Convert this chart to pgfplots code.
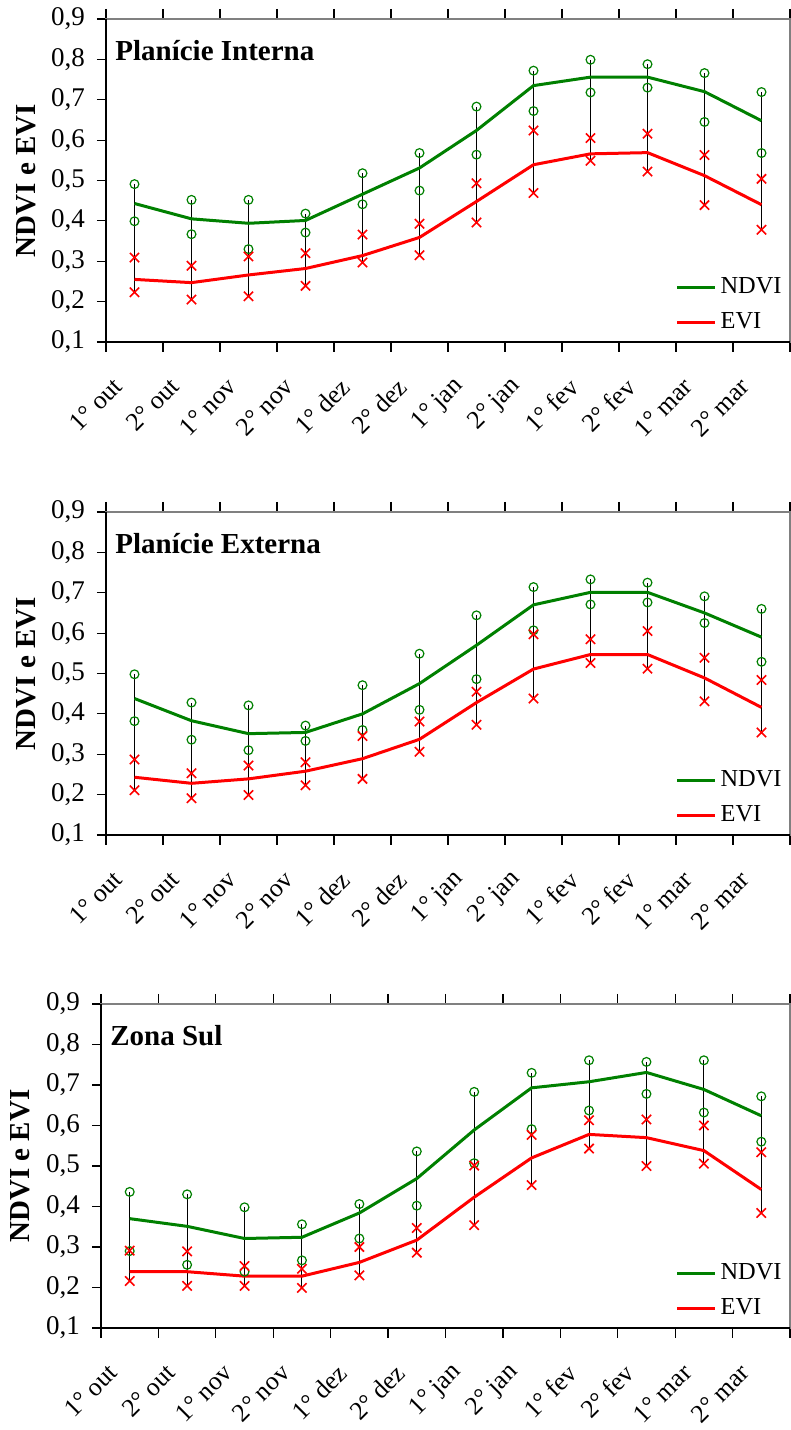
\documentclass[border=0pt]{standalone}
\usepackage{fontspec}
\setmainfont{Liberation Serif}
\usepackage{pgfplots}
\usepackage{pgfplotstable}
\pgfplotsset{compat=1.18}

\definecolor{ndvi}{RGB}{0,128,0}
\definecolor{evi}{RGB}{255,0,0}

% columns: category, NDVI mean/max/min, EVI mean/max/min
\pgfplotstableread{
x nmean nmax nmin emean emax emin
0  0.443 0.491 0.399 0.255 0.309 0.223
1  0.405 0.452 0.367 0.247 0.289 0.205
2  0.394 0.452 0.330 0.266 0.312 0.213
3  0.401 0.418 0.371 0.282 0.320 0.239
4  0.466 0.518 0.441 0.314 0.366 0.297
5  0.531 0.568 0.475 0.359 0.393 0.315
6  0.624 0.683 0.564 0.448 0.493 0.396
7  0.735 0.772 0.672 0.539 0.624 0.469
8  0.756 0.799 0.718 0.566 0.605 0.549
9  0.756 0.788 0.730 0.569 0.616 0.522
10 0.720 0.766 0.645 0.512 0.563 0.439
11 0.648 0.719 0.568 0.440 0.504 0.378
}\interna

\pgfplotstableread{
x nmean nmax nmin emean emax emin
0  0.438 0.498 0.382 0.243 0.287 0.211
1  0.383 0.428 0.336 0.228 0.253 0.191
2  0.351 0.421 0.310 0.239 0.272 0.199
3  0.354 0.371 0.333 0.258 0.280 0.223
4  0.400 0.471 0.360 0.289 0.345 0.239
5  0.475 0.549 0.410 0.337 0.381 0.306
6  0.570 0.644 0.486 0.428 0.455 0.373
7  0.670 0.714 0.607 0.511 0.597 0.438
8  0.701 0.733 0.671 0.547 0.585 0.526
9  0.701 0.725 0.676 0.547 0.605 0.512
10 0.650 0.691 0.625 0.489 0.539 0.431
11 0.590 0.660 0.529 0.416 0.484 0.354
}\externa

\pgfplotstableread{
x nmean nmax nmin emean emax emin
0  0.370 0.436 0.290 0.239 0.291 0.216
1  0.351 0.430 0.256 0.239 0.289 0.204
2  0.321 0.398 0.239 0.228 0.253 0.204
3  0.324 0.356 0.267 0.228 0.246 0.199
4  0.384 0.406 0.321 0.262 0.300 0.230
5  0.469 0.536 0.402 0.317 0.347 0.286
6  0.589 0.683 0.507 0.423 0.501 0.354
7  0.693 0.730 0.591 0.520 0.577 0.453
8  0.708 0.761 0.637 0.578 0.613 0.543
9  0.731 0.757 0.678 0.570 0.615 0.500
10 0.689 0.761 0.632 0.538 0.600 0.506
11 0.624 0.672 0.560 0.442 0.534 0.384
}\sul

\tikzset{
  paneltitle/.style={anchor=north west, inner sep=0pt, xshift=4.5pt, yshift=-10.5pt,
    font=\bfseries\fontsize{14.5}{17}\selectfont},
}

\pgfplotsset{
  panel/.style={
    scale only axis,
    width=342pt, height=161.5pt,
    xmin=-0.5, xmax=11.5, ymin=0.1, ymax=0.9,
    xtick={0,...,11},
    xticklabels={1° out,2° out,1° nov,2° nov,1° dez,2° dez,1° jan,2° jan,1° fev,2° fev,1° mar,2° mar},
    minor xtick={-0.5,0.5,...,11.5},
    ytick={0.1,0.2,0.3,0.4,0.5,0.6,0.7,0.8,0.9},
    tick align=outside,
    major tick length=4.5pt, minor tick length=5pt,
    major x tick style={draw=none},
    tick style={black, line width=0.6pt},
    axis line style={gray, line width=0.6pt},
    /pgf/number format/fixed,
    /pgf/number format/fixed zerofill,
    /pgf/number format/precision=1,
    /pgf/number format/use comma,
    /pgf/number format/assume math mode=true,
    yticklabel style={font=\fontsize{13.5}{16}\selectfont, xshift=-2.5pt},
    xticklabel style={font=\fontsize{12.9}{15}\selectfont, inner sep=1pt,
      xshift=-7.5pt, yshift=-15pt, rotate=45, anchor=east},
    ylabel={NDVI e EVI},
    ylabel style={at={(axis description cs:-0.117,0.5)}, anchor=center,
      font=\bfseries\fontsize{14.5}{17}\selectfont},
    legend style={at={(1,0)}, anchor=south east, xshift=-2pt, yshift=3pt,
      draw=none, fill=none, inner sep=0pt, row sep=4pt,
      font=\fontsize{12.2}{14}\selectfont},
    legend cell align=left,
    legend image code/.code={\draw[#1] (0pt,0pt) -- (19pt,0pt);},
    after end axis/.code={
      \draw[black, line width=0.6pt] (rel axis cs:0,1) -- (rel axis cs:0,0) -- (rel axis cs:1,0);
    },
  },
}

% one panel: high-low lines, mean curves, max/min markers
\newcommand\series[1]{%
  \addplot[mark=none, draw=none, forget plot,
    error bars/.cd, y dir=plus, y explicit, error mark=none,
    error bar style={draw=black, line width=0.5pt}]
    table[x=x, y=emin, y error expr=\thisrow{nmax}-\thisrow{emin}] {#1};
  \addplot[ndvi, line width=1.5pt, mark=none] table[x=x, y=nmean] {#1};
  \addplot[evi, line width=1.5pt, mark=none] table[x=x, y=emean] {#1};
  \addplot[only marks, forget plot, mark=o, mark size=2.2pt, ndvi, mark options={line width=0.6pt}]
    table[x=x, y=nmax] {#1};
  \addplot[only marks, forget plot, mark=o, mark size=2.2pt, ndvi, mark options={line width=0.6pt}]
    table[x=x, y=nmin] {#1};
  \addplot[only marks, forget plot, mark=x, mark size=3.3pt, evi, mark options={line width=0.8pt}]
    table[x=x, y=emax] {#1};
  \addplot[only marks, forget plot, mark=x, mark size=3.3pt, evi, mark options={line width=0.8pt}]
    table[x=x, y=emin] {#1};
  \legend{NDVI,EVI}
}

\begin{document}
\begin{tikzpicture}
\useasboundingbox (0,0) rectangle (395.5pt,715pt);

\begin{axis}[panel, at={(53pt,544pt)}, anchor=south west]
  \series{\interna}
  \node[paneltitle] at (rel axis cs:0,1) {Planície Interna};
\end{axis}

\begin{axis}[panel, at={(53pt,297.5pt)}, anchor=south west]
  \series{\externa}
  \node[paneltitle] at (rel axis cs:0,1) {Planície Externa};
\end{axis}

\begin{axis}[panel, width=344.5pt, height=162pt, at={(50.5pt,51pt)}, anchor=south west]
  \series{\sul}
  \node[paneltitle] at (rel axis cs:0,1) {Zona Sul};
\end{axis}
\end{tikzpicture}
\end{document}
